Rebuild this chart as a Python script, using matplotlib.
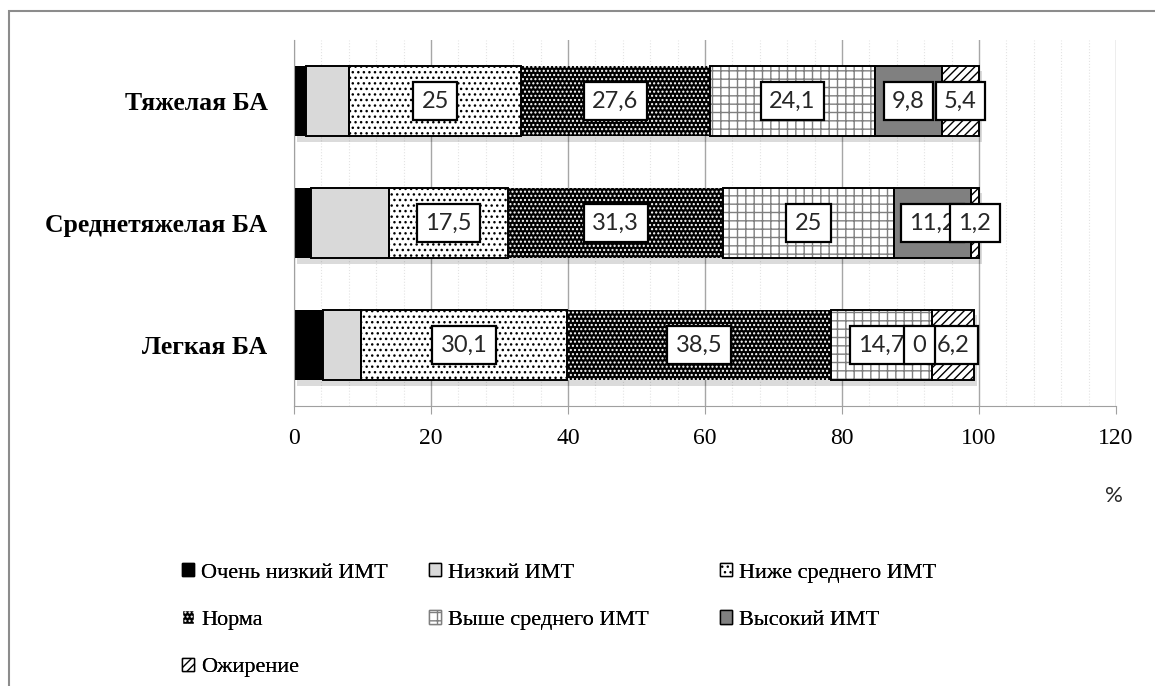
import matplotlib
matplotlib.use("Agg")
from matplotlib import pyplot as plt
from matplotlib.patches import Patch, Rectangle
from matplotlib import patheffects as pe
from matplotlib.ticker import MultipleLocator


SERIF = ["Liberation Serif", "DejaVu Serif"]
LBL_FONT = ["Lato", "DejaVu Sans"]

plt.rcParams.update({
    "font.family": SERIF,
    "hatch.linewidth": 1.0,
})

# categories, bottom to top
categories = ["Легкая БА", "Среднетяжелая БА", "Тяжелая БА"]

series_names = ["Очень низкий ИМТ", "Низкий ИМТ", "Ниже среднего ИМТ", "Норма",
                "Выше среднего ИМТ", "Высокий ИМТ", "Ожирение"]

very_low = [4.2, 2.5, 1.8]
low = [5.6, 11.3, 6.3]
below_avg = [30.1, 17.5, 25]
norm = [38.5, 31.3, 27.6]
above_avg = [14.7, 25, 24.1]
high = [0, 11.2, 9.8]
obesity = [6.2, 1.2, 5.4]

values = [very_low, low, below_avg, norm, above_avg, high, obesity]
labelled = [False, False, True, True, True, True, True]

xticks = [0, 20, 40, 60, 80, 100, 120]

# face, hatch colour, hatch, outlined
STYLES = [
    dict(face="black", hcol="black", hatch=None, edge=False),
    dict(face="#d9d9d9", hcol="#d9d9d9", hatch=None, edge=True),
    dict(face="white", hcol="black", hatch="...", edge=True),
    dict(face="black", hcol="white", hatch="....", edge=False),
    dict(face="white", hcol="#7f7f7f", hatch="++", edge=True),
    dict(face="#808080", hcol="#808080", hatch=None, edge=True),
    dict(face="white", hcol="black", hatch="////", edge=True),
]

W, H = 1155, 686
BAR_H = 0.575


def main():
    fig = plt.figure(figsize=(W / 100, H / 100), dpi=100)
    ax = fig.add_axes([294 / W, 1 - 406 / H, (1116 - 294) / W, (406 - 40) / H])

    y = list(range(len(categories)))
    left = [0.0] * len(categories)

    for k, (name, vals, st, lab) in enumerate(zip(series_names, values, STYLES, labelled)):
        # soft shadow under the segment
        ax.barh(y, vals, left=left, height=BAR_H, facecolor="none", linewidth=0,
                zorder=1.5,
                path_effects=[pe.SimplePatchShadow(offset=(2, -4), shadow_rgbFace="black", alpha=0.14)])
        ax.barh(y, vals, left=left, height=BAR_H, color=st["face"], edgecolor=st["hcol"],
                hatch=st["hatch"], linewidth=0, zorder=2)
        if st["edge"]:
            ax.barh(y, vals, left=left, height=BAR_H, facecolor="none", edgecolor="black",
                    linewidth=1.4, zorder=3)
        if lab:
            for yi, l, v in zip(y, left, vals):
                txt = f"{v:g}".replace(".", ",")
                if v == 0:
                    # empty segment: box sits just left of the next label
                    x, ha, z = l - 0.8, "right", 20
                else:
                    x, ha, z = l + v / 2, "center", 6 + k
                ax.text(x, yi, txt, ha=ha, va="center", fontsize=17,
                        family=LBL_FONT, color="#262626", zorder=z,
                        bbox=dict(boxstyle="square,pad=0.36", fc="white", ec="black", lw=1.6))
        left = [a + b for a, b in zip(left, vals)]

    ax.set_xlim(0, 120)
    ax.set_ylim(-0.5, len(categories) - 0.5)
    ax.set_xticks(xticks)
    ax.xaxis.set_minor_locator(MultipleLocator(4))
    ax.set_yticks(y)
    ax.set_yticklabels(categories, fontsize=18.5, fontweight="bold", family=SERIF)
    ax.tick_params(axis="y", length=0, pad=19)
    ax.tick_params(axis="x", which="major", length=6, color="#a0a0a0", labelsize=17, pad=10)
    ax.tick_params(axis="x", which="minor", length=0)
    for t in ax.get_xticklabels():
        t.set_family(SERIF)

    ax.set_axisbelow(True)
    ax.grid(axis="x", which="major", color="#a6a6a6", linewidth=1.0, zorder=0)
    ax.grid(axis="x", which="minor", color="#e3e3e3", linewidth=0.8, linestyle=":", zorder=0)

    for s in ["top", "right"]:
        ax.spines[s].set_visible(False)
    ax.spines["left"].set_color("#a0a0a0")
    ax.spines["bottom"].set_color("#a0a0a0")

    fig.text(1114 / W, 1 - 496 / H, "%", ha="center", va="center", fontsize=16,
             family=LBL_FONT, color="#262626")

    # legend: three columns placed like the original
    handles = []
    for name, st in zip(series_names, STYLES):
        handles.append(Patch(facecolor=st["face"], edgecolor=st["hcol"] if st["hatch"] else "black",
                             hatch=st["hatch"], linewidth=1.0, label=name))
    columns = [[0, 3, 6], [1, 4], [2, 5]]
    col_x = [182, 429, 720]
    for idx, cx in zip(columns, col_x):
        leg = fig.legend([handles[i] for i in idx], [series_names[i] for i in idx],
                         loc="upper left", bbox_to_anchor=(cx / W, 1 - 563 / H),
                         frameon=False, handlelength=0.55, handleheight=0.55,
                         handletextpad=0.3, labelspacing=1.25, borderpad=0, borderaxespad=0,
                         prop=dict(family=SERIF, size=16))
        fig.add_artist(leg)

    # outer chart frame (runs off the right and bottom edges)
    fig.add_artist(Rectangle((9 / W, -0.2), 1.2, 1.2 - 11 / H, transform=fig.transFigure,
                             fill=False, edgecolor="#8c8c8c", linewidth=1.5))

    fig.savefig("out.png", dpi=100)


main()
